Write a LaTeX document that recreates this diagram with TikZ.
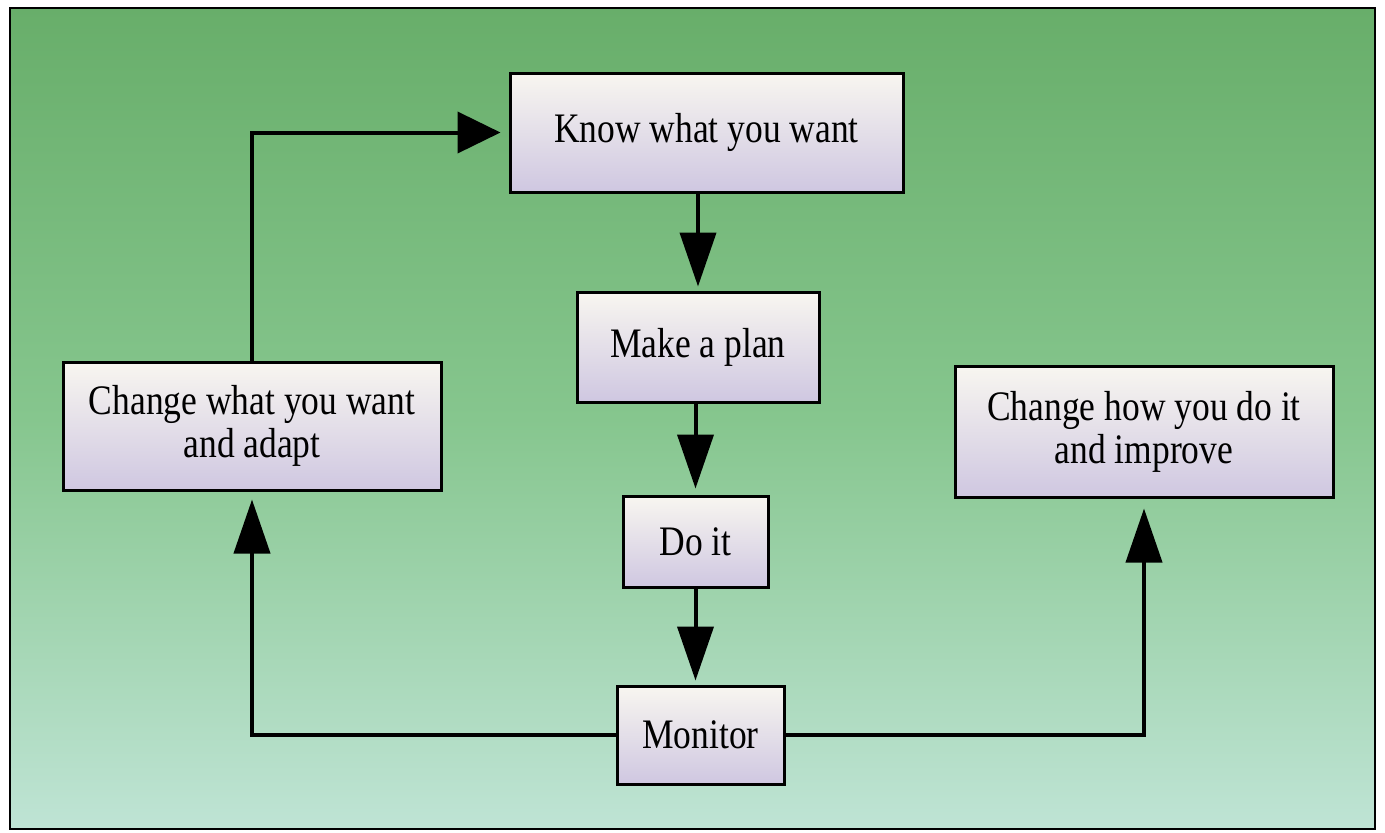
\documentclass[tikz,border=0pt]{standalone}
\usepackage{fontspec}
\usepackage{graphicx}
\setmainfont{Liberation Serif}
\usetikzlibrary{arrows.meta}
\definecolor{bgtop}{HTML}{68AE6A}
\definecolor{bgmid}{HTML}{86C68E}
\definecolor{bgbot}{HTML}{BFE4D5}
\definecolor{boxtop}{HTML}{F8F6F0}
\definecolor{boxbot}{HTML}{CFC7E1}
\newcommand{\sq}[1]{\scalebox{0.845}[1]{#1}}
\tikzset{
  stepbox/.style={draw=black, line width=1.5pt, top color=boxtop, bottom color=boxbot,
    inner sep=0pt, align=center, font=\fontsize{21}{21.5}\selectfont},
  flow/.style={line width=2pt, draw=black, -{Triangle[length=27pt,width=18pt]}},
  flowh/.style={line width=2pt, draw=black, -{Triangle[length=21.5pt,width=20.5pt]}}
}
\begin{document}
\begin{tikzpicture}[x=0.5pt,y=-0.5pt]
\useasboundingbox (0,0) rectangle (1385,832);
\fill[white] (0,0) rectangle (1385,832);
\shade[top color=bgtop, bottom color=bgbot, middle color=bgmid] (10,8) rectangle (1375,829);
\draw[line width=1pt] (10,8) rectangle (1375,829);

\node[stepbox, minimum width=196.5pt, minimum height=59.5pt] (know) at (706.5,132.5) {\sq{Know what you want}};
\node[stepbox, minimum width=121pt, minimum height=55pt] (plan) at (698,347) {\sq{Make a plan}};
\node[stepbox, minimum width=72.5pt, minimum height=45.5pt] (doit) at (695.5,541.5) {\sq{Do it}};
\node[stepbox, minimum width=83.5pt, minimum height=49pt] (mon) at (700.5,735) {\sq{Monitor}};
\node[stepbox, minimum width=189pt, minimum height=64pt] (cwhat) at (252,426) {\sq{Change what you want}\\\sq{and adapt}};
\node[stepbox, minimum width=189pt, minimum height=65.5pt] (chow) at (1144,431.5) {\sq{Change how you do it}\\\sq{and improve}};

\draw[flow, shorten >=2pt] (plan.north |- know.south) -- (plan.north);
\draw[flow, shorten >=3pt] (doit.north |- plan.south) -- (doit.north);
\draw[flow, shorten >=2pt] (doit.south) -- (mon.north -| doit.south);
\draw[flow, shorten >=4pt] (mon.west) -| (cwhat.south);
\draw[flow, shorten >=5pt] (mon.east) -| (chow.south);
\draw[flowh, shorten >=4pt] (cwhat.north) |- (know.west);
\end{tikzpicture}
\end{document}
